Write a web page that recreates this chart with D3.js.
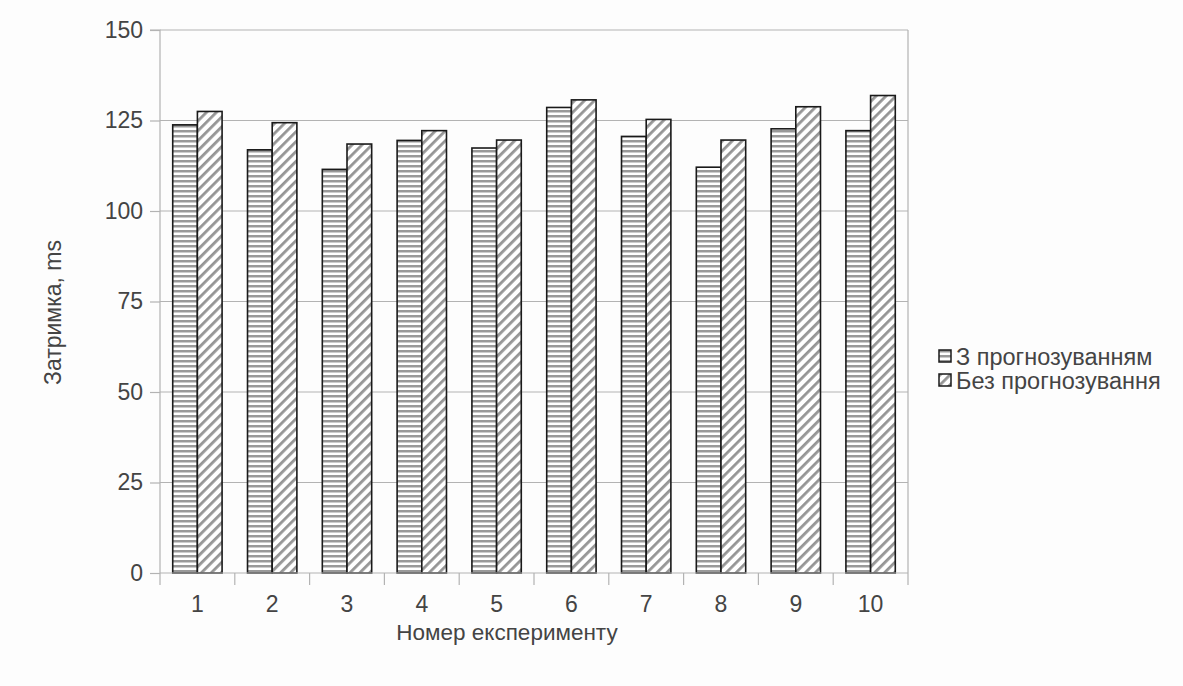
<!DOCTYPE html>
<html><head><meta charset="utf-8">
<script src="https://cdn.jsdelivr.net/npm/d3@7/dist/d3.min.js"></script>
<style>
body{margin:0;background:#fdfdfd;}
svg{display:block;font-family:"Liberation Sans",Arial,sans-serif;}
</style></head><body>
<svg id="chart" width="1183" height="686"></svg>
<script>
const categories = ["1","2","3","4","5","6","7","8","9","10"];
const seriesNames = ["З прогнозуванням","Без прогнозування"];
const withForecast = [123.8,116.9,111.5,119.5,117.4,128.6,120.6,112.1,122.7,122.2];
const withoutForecast = [127.5,124.4,118.5,122.2,119.6,130.7,125.3,119.6,128.8,131.9];
const yTicks = [0,25,50,75,100,125,150];
const yTitle = "Затримка, ms";
const xTitle = "Номер експерименту";

const svg = d3.select("#chart");
const m = {left:160, right:908, top:30, bottom:573};
const x = d3.scaleBand().domain(categories).range([m.left, m.right]);
const y = d3.scaleLinear().domain([0,150]).range([m.bottom, m.top]);
const defs = svg.append("defs");
const p1 = defs.append("pattern").attr("id","hstripe").attr("patternUnits","userSpaceOnUse").attr("width",8).attr("height",5);
p1.append("rect").attr("width",8).attr("height",5).attr("fill","#ffffff");
p1.append("rect").attr("y",0).attr("width",8).attr("height",2.5).attr("fill","#999999");
const p2 = defs.append("pattern").attr("id","diag").attr("patternUnits","userSpaceOnUse").attr("width",7).attr("height",7).attr("patternTransform","rotate(45)");
p2.append("rect").attr("width",7).attr("height",7).attr("fill","#ffffff");
p2.append("rect").attr("x",0).attr("width",2.8).attr("height",7).attr("fill","#959595");
const fills = ["url(#hstripe)","url(#diag)"];
const font = "Liberation Sans, Arial, sans-serif";

// gridlines
svg.append("g").selectAll("line").data(yTicks.filter(d=>d>0)).join("line")
  .attr("x1",m.left).attr("x2",m.right).attr("y1",d=>y(d)).attr("y2",d=>y(d))
  .attr("stroke","#b3b3b3").attr("stroke-width",1.2);
svg.append("line").attr("x1",m.right).attr("x2",m.right).attr("y1",m.top).attr("y2",m.bottom)
  .attr("stroke","#b3b3b3").attr("stroke-width",1.2);

// bars
const bw = x.bandwidth()*0.33;
const series = [withForecast, withoutForecast];
const gBars = svg.append("g");
series.forEach((vals,si)=>{
  gBars.append("g").selectAll("rect").data(categories.map((c,i)=>({c,v:vals[i]}))).join("rect")
    .attr("x",d=>x(d.c)+x.bandwidth()/2 - bw + si*bw)
    .attr("width",bw)
    .attr("y",d=>y(d.v)).attr("height",d=>y(0)-y(d.v))
    .attr("fill",fills[si]).attr("stroke","#1a1a1a").attr("stroke-width",1.6);
});

// y axis
const yAxis = d3.axisLeft(y).tickValues(yTicks).tickSize(10).tickPadding(7);
const gy = svg.append("g").attr("transform",`translate(${m.left},0)`).call(yAxis);
gy.select(".domain").attr("stroke","#b3b3b3").attr("stroke-width",1.2).attr("d",`M-10,${m.top}H0V${m.bottom}`);
gy.selectAll(".tick line").attr("stroke","#b3b3b3").attr("stroke-width",1.2);
gy.selectAll("text").attr("font-size",23).attr("fill","#444").attr("font-family",font);

// x axis
const xAxis = d3.axisBottom(x).tickSize(0).tickPadding(23);
const gx = svg.append("g").attr("transform",`translate(0,${m.bottom})`).call(xAxis);
gx.select(".domain").attr("stroke","#b3b3b3").attr("stroke-width",1.2).attr("d",`M${m.left},0H${m.right}`);
gx.selectAll("text").attr("font-size",23).attr("fill","#444").attr("font-family",font);
const bounds = categories.map(c=>x(c)).concat([m.right]);
svg.append("g").selectAll("line").data(bounds).join("line")
  .attr("x1",d=>d).attr("x2",d=>d).attr("y1",m.bottom).attr("y2",m.bottom+12)
  .attr("stroke","#b3b3b3").attr("stroke-width",1.2);

// titles
svg.append("text").attr("x",(m.left+m.right)/2 - 27).attr("y",640).attr("text-anchor","middle")
  .attr("font-size",22.5).attr("fill","#444").text(xTitle);
svg.append("text").attr("transform",`translate(61,${(m.top+m.bottom)/2 + 11}) rotate(-90)`).attr("text-anchor","middle")
  .attr("font-size",23).attr("fill","#444").text(yTitle);

// legend
const lg = svg.append("g").attr("transform","translate(939,350)");
seriesNames.forEach((n,i)=>{
  const g = lg.append("g").attr("transform",`translate(0,${i*24})`);
  g.append("rect").attr("width",12).attr("height",12).attr("fill",fills[i]).attr("stroke","#1a1a1a").attr("stroke-width",1.5);
  g.append("text").attr("x",17).attr("y",15).attr("font-size",23.5).attr("fill","#444").text(n);
});
</script></body></html>
